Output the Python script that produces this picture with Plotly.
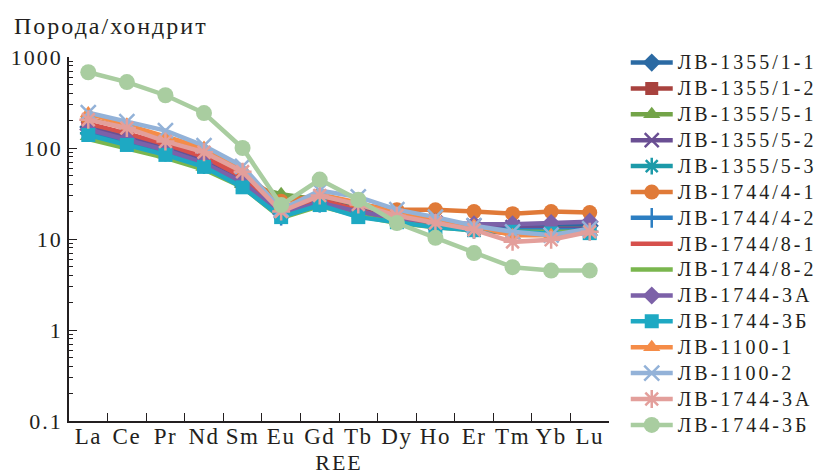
import plotly.graph_objects as go

# Chondrite-normalised REE patterns
ree = ["La", "Ce", "Pr", "Nd", "Sm", "Eu", "Gd", "Tb", "Dy", "Ho", "Er", "Tm", "Yb", "Lu"]

samples = [
    "ЛВ-1355/1-1", "ЛВ-1355/1-2", "ЛВ-1355/5-1", "ЛВ-1355/5-2", "ЛВ-1355/5-3",
    "ЛВ-1744/4-1", "ЛВ-1744/4-2", "ЛВ-1744/8-1", "ЛВ-1744/8-2", "ЛВ-1744-3А",
    "ЛВ-1744-3Б", "ЛВ-1100-1", "ЛВ-1100-2", "ЛВ-1744-3А", "ЛВ-1744-3Б",
]

lv_1355_1_1 = [170, 135, 105, 75, 45, 20, 28, 22, 17, 15, 14, 14, 14, 14]
lv_1355_1_2 = [160, 125, 98, 70, 42, 19, 26, 21, 16, 14, 12.5, 12, 12, 12]
lv_1355_5_1 = [135, 110, 85, 62, 40, 31, 27, 22, 17, 15, 13, 13, 13, 13]
lv_1355_5_2 = [165, 130, 100, 72, 44, 20, 27, 21, 17, 15, 14, 13.5, 13, 13]
lv_1355_5_3 = [145, 115, 88, 64, 39, 19, 25, 19, 15.5, 14, 12.5, 12, 12, 12]
lv_1744_4_1 = [210, 165, 125, 90, 52, 26, 30, 24, 21, 21, 20, 19, 20, 19.5]
lv_1744_4_2 = [155, 122, 95, 68, 42, 18, 25, 20, 16, 14.5, 13, 12.5, 12.5, 12.5]
lv_1744_8_1 = [185, 145, 110, 80, 48, 20, 27, 21, 16, 14, 12.5, 11.5, 11.5, 12]
lv_1744_8_2 = [125, 100, 78, 58, 37, 17, 23, 18, 15, 13.5, 12.5, 12, 12, 12]
lv_1744_3a = [160, 125, 95, 68, 42, 19, 25, 20, 17, 15.5, 14.5, 14.5, 15, 15.5]
lv_1744_3b = [139, 108, 84, 62, 37, 17.4, 23.6, 17.4, 15.3, 13.5, 12.5, 12, 11.5, 11.6]
lv_1100_1 = [240, 180, 135, 100, 57, 22, 31, 25, 19, 16, 14, 11, 11, 12]
lv_1100_2 = [245, 195, 155, 106, 63, 21, 34, 29, 21, 17.4, 14, 12, 11, 13]
lv_1744_3a_b = [205, 166, 118, 90, 55, 20, 30, 24, 18, 15, 12.6, 9.3, 9.8, 12]
lv_1744_3b_b = [680, 530, 380, 242, 100, 23.6, 45, 27, 15, 10.3, 7, 4.9, 4.5, 4.5]

series_values = [
    lv_1355_1_1, lv_1355_1_2, lv_1355_5_1, lv_1355_5_2, lv_1355_5_3,
    lv_1744_4_1, lv_1744_4_2, lv_1744_8_1, lv_1744_8_2, lv_1744_3a,
    lv_1744_3b, lv_1100_1, lv_1100_2, lv_1744_3a_b, lv_1744_3b_b,
]

colors = [
    "#2b6aa3", "#a8423e", "#73a448", "#6a4f93", "#1c9aa9",
    "#e07a38", "#2c7ec2", "#d6504c", "#7ab64e", "#7c61a8",
    "#1ea9c3", "#f58c48", "#93b2d8", "#e39f9b", "#a9cda0",
]

symbols = [
    "diamond", "square", "triangle-up", "x-thin-open", "asterisk-open",
    "circle", "line-ns-open", "line-ew-open", "circle", "diamond",
    "square", "triangle-up", "x-thin-open", "asterisk-open", "circle",
]

sizes = [14, 13, 15, 14, 14, 15, 14, 10, 0, 14, 14, 15, 15, 15, 16]

tick_vals = [0.1, 1, 10, 100, 1000]
tick_text = ["0.1", "1", "10", "100", "1000"]
minor_vals = [k * 10.0 ** e for e in range(-1, 3) for k in range(2, 10)]

SERIF = "Liberation Serif"
INK = "#231f20"


def spaced(text, px, size=None):
    """Wrap a label so it renders with a little extra letter spacing."""
    fs = f"font-size:{size}px;" if size else ""
    return f'<span style="{fs}letter-spacing:{px}px">{text}</span>'


fig = go.Figure()
for name, vals, col, sym, sz in zip(samples, series_values, colors, symbols, sizes):
    open_sym = sym.endswith("-open")
    fig.add_trace(go.Scatter(
        x=ree, y=vals, name=spaced(name, 3, 20),
        mode="lines+markers" if sz else "lines",
        line=dict(color=col, width=4.5),
        marker=dict(symbol=sym, size=sz, color=col,
                    line=dict(color=col, width=2.5 if open_sym else 0)),
    ))

fig.update_layout(
    width=825, height=475,
    margin=dict(l=69, r=216, t=57, b=54, autoexpand=False),
    paper_bgcolor="white", plot_bgcolor="white",
    font=dict(family=SERIF, color=INK, size=21),
    showlegend=True,
    legend=dict(
        x=1.031, xanchor="left", y=1.034, yanchor="top",
        font=dict(family=SERIF, size=17.6, color=INK),
        itemwidth=42, tracegroupgap=0, bgcolor="rgba(0,0,0,0)",
        maxheight=470,
    ),
    xaxis=dict(
        type="category", categoryorder="array", categoryarray=ree,
        tickmode="array", tickvals=ree, ticktext=[spaced(c, 1.5) for c in ree],
        tickangle=0,
        showline=True, linecolor=INK, linewidth=1.5, mirror=False,
        ticks="inside", tickson="boundaries", ticklen=8, tickcolor=INK, tickwidth=1.2,
        ticklabelstandoff=-6,
        showgrid=False, zeroline=False,
        tickfont=dict(family=SERIF, size=23, color=INK),
        title=dict(text=spaced("REE", 2), font=dict(family=SERIF, size=22, color=INK), standoff=6),
        range=[-0.5, 13.5],
    ),
    yaxis=dict(
        type="log", range=[-1, 3],
        showline=True, linecolor=INK, linewidth=1.5,
        ticks="inside", ticklen=8, tickcolor=INK, tickwidth=1.2,
        tickmode="array", tickvals=tick_vals, ticktext=[spaced(t, 2) for t in tick_text],
        minor=dict(ticks="inside", ticklen=4, tickcolor=INK, tickwidth=1,
                   tickmode="array", tickvals=minor_vals, showgrid=False),
        showgrid=False, zeroline=False,
        tickfont=dict(family=SERIF, size=22, color=INK),
    ),
)

fig.add_annotation(
    text=spaced("Порода/хондрит", 2), xref="paper", yref="paper",
    x=-57 / 540, y=1 + 31 / 364, xanchor="left", yanchor="middle",
    showarrow=False, font=dict(family=SERIF, size=24, color=INK),
)

fig.write_html("out.html")
